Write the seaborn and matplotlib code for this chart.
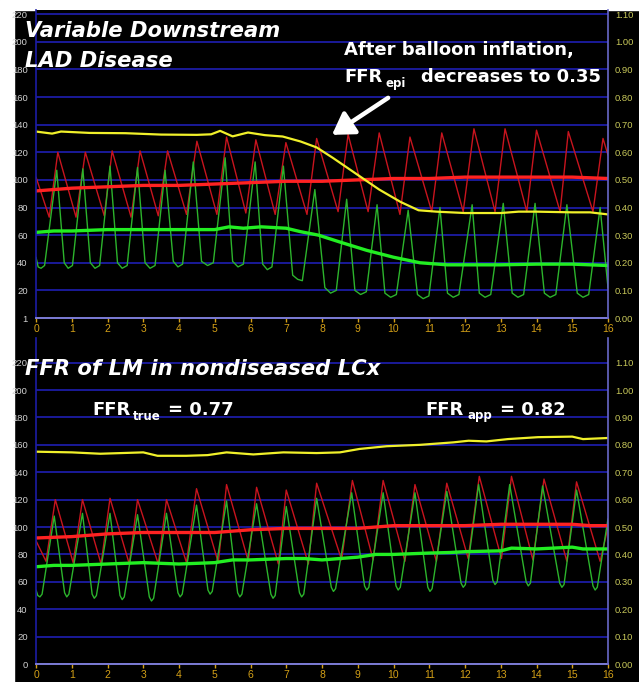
import matplotlib.pyplot as plt
import seaborn as sns
from matplotlib.patches import Rectangle

# ---------------- top panel: variable downstream LAD disease ----------------
top_pa_t = [0.00, 0.37, 0.61, 1.12, 1.38, 1.91, 2.13, 2.66, 2.91, 3.42, 3.68, 4.21, 4.50,
            5.06, 5.33, 5.87, 6.15, 6.69, 6.99, 7.58, 7.85, 8.45, 8.73, 9.29, 9.60,
            10.18, 10.46, 11.07, 11.35, 11.95, 12.25, 12.84, 13.12, 13.73, 14.00,
            14.66, 14.89, 15.58, 15.86, 16.00]
top_pa_v = [102, 73, 120, 73, 120, 74, 121, 73, 121, 74, 121, 75, 128,
            75, 131, 76, 129, 75, 127, 75, 130, 77, 133, 77, 134,
            75, 131, 77, 134, 77, 137, 77, 137, 77, 136,
            77, 135, 77, 130, 118]

top_pd_t = [0.00, 0.06, 0.14, 0.24, 0.58, 0.79, 0.90, 1.02, 1.31, 1.52, 1.65, 1.78, 2.07,
            2.28, 2.41, 2.55, 2.84, 3.05, 3.19, 3.33, 3.61, 3.84, 3.97, 4.10, 4.40,
            4.63, 4.80, 4.96, 5.29, 5.50, 5.65, 5.80, 6.13, 6.34, 6.47, 6.60, 6.92,
            7.18, 7.32, 7.45, 7.80, 8.08, 8.24, 8.40, 8.69, 8.92, 9.08, 9.24, 9.54,
            9.76, 9.92, 10.08, 10.41, 10.67, 10.83, 10.99, 11.30, 11.51, 11.67, 11.83, 12.20,
            12.40, 12.56, 12.72, 13.07, 13.32, 13.48, 13.64, 13.96, 14.22, 14.38, 14.54, 14.85,
            15.14, 15.30, 15.46, 15.78, 16.00]
top_pd_v = [44, 37, 36, 38, 107, 40, 36, 38, 108, 40, 36, 38, 110,
            40, 36, 38, 109, 40, 36, 38, 107, 41, 37, 39, 113,
            41, 38, 40, 116, 41, 37, 39, 113, 39, 35, 37, 110,
            31, 28, 27, 93, 22, 18, 20, 86, 20, 17, 19, 82,
            18, 15, 17, 78, 17, 14, 16, 80, 18, 15, 17, 82,
            18, 15, 17, 83, 18, 15, 17, 83, 18, 15, 17, 82,
            18, 15, 17, 80, 22]

top_pa_mean_t = [0, 0.5, 1, 2, 3, 4, 5, 6, 7, 8, 9, 10, 11, 12, 13, 14, 15, 16]
top_pa_mean_v = [92, 93, 94, 95, 96, 96, 97, 98, 99, 99, 100, 101, 101, 102, 102, 102, 102, 101]

top_pd_mean_t = [0, 0.5, 1, 2, 3, 4, 5, 5.4, 5.8, 6.3, 7, 7.4, 7.9, 8.5, 9.25, 10, 10.74,
                 11.5, 12, 13, 14, 15, 16]
top_pd_mean_v = [62, 63, 63, 64, 64, 64, 64, 66, 65, 66, 65, 62.5, 60, 55, 49, 44, 40,
                 38.5, 38.5, 38.5, 39, 39, 38]

top_ffr_t = [0, 0.45, 0.7, 1.5, 2.5, 3.5, 4.5, 4.9, 5.15, 5.5, 5.93, 6.4, 6.9, 7.4, 7.85,
             8.3, 9.0, 9.6, 10.2, 10.7, 11.2, 12, 13, 13.5, 14, 15, 15.5, 16]
top_ffr_v = [135, 133.5, 135, 134, 133.8, 132.8, 132.6, 133, 135.5, 131.5, 134.3, 132.4,
             131.4, 127.8, 123.5, 116, 103.6, 93, 84, 78, 77, 76, 76, 77, 77, 76.5, 76.5, 75]

# ---------------- bottom panel: FFR of LM in nondiseased LCx ----------------
bot_pa_t = [0.00, 0.28, 0.54, 1.04, 1.30, 1.82, 2.07, 2.61, 2.84, 3.42, 3.65, 4.21, 4.49,
            5.10, 5.33, 5.94, 6.17, 6.78, 7.00, 7.62, 7.85, 8.55, 8.85, 9.43, 9.71,
            10.32, 10.60, 11.20, 11.49, 12.09, 12.40, 13.02, 13.30, 13.90, 14.21,
            14.85, 15.12, 15.78, 16.00]
bot_pa_v = [90, 75, 120, 74, 120, 73, 121, 73, 120, 73, 120, 74, 128,
            74, 131, 75, 129, 73, 127, 73, 132, 76, 134, 76, 134,
            75, 131, 75, 132, 77, 137, 77, 137, 76, 135,
            75, 133, 75, 100]

bot_pd_t = [0.00, 0.05, 0.11, 0.17, 0.51, 0.80, 0.86, 0.92, 1.30, 1.57, 1.63, 1.69, 2.07,
            2.35, 2.41, 2.47, 2.84, 3.17, 3.23, 3.29, 3.65, 3.97, 4.03, 4.09, 4.49,
            4.81, 4.87, 4.93, 5.33, 5.64, 5.70, 5.76, 6.17, 6.57, 6.63, 6.69, 7.00,
            7.37, 7.43, 7.49, 7.85, 8.26, 8.32, 8.38, 8.83, 9.19, 9.25, 9.31, 9.71,
            10.07, 10.13, 10.19, 10.60, 10.96, 11.02, 11.08, 11.49, 11.89, 11.95, 12.01, 12.38,
            12.78, 12.84, 12.90, 13.25, 13.71, 13.77, 13.83, 14.17, 14.65, 14.71, 14.77, 15.12,
            15.58, 15.64, 15.70, 16.00]
bot_pd_v = [54, 50, 49, 51, 108, 52, 49, 51, 110, 51, 48, 50, 110,
            50, 47, 49, 109, 49, 46, 48, 110, 52, 49, 51, 116,
            54, 51, 53, 119, 52, 49, 51, 117, 51, 48, 50, 115,
            52, 49, 51, 121, 56, 53, 55, 125, 57, 54, 56, 125,
            57, 54, 56, 125, 56, 53, 55, 126, 59, 56, 58, 131,
            61, 58, 60, 131, 60, 57, 59, 130, 59, 56, 58, 127,
            57, 54, 56, 106]

bot_pa_mean_t = [0, 1, 2, 3, 4, 5, 5.5, 6, 7, 8, 9, 9.5, 10, 11, 12, 13, 14, 15, 15.5, 16]
bot_pa_mean_v = [92, 93, 95, 96, 96, 96, 97, 98, 99, 99, 99, 100, 101, 101, 101, 102, 102,
                 102, 101, 101]

bot_pd_mean_t = [0, 0.5, 1, 2, 3, 4, 5, 5.5, 6, 7, 7.5, 8, 8.5, 9, 9.5, 10, 11, 11.6, 12,
                 13, 13.3, 14, 15, 15.3, 16]
bot_pd_mean_v = [71, 72, 72, 73, 74, 73, 74, 76, 76, 77, 77, 76, 77, 78, 80, 80, 81, 81.4,
                 82, 82.6, 84.6, 84, 85.3, 84, 84]

bot_ffr_t = [0, 1, 1.8, 3, 3.4, 4.2, 4.8, 5.33, 6.08, 6.92, 7.85, 8.5, 9.05, 9.81, 10.74,
             11.67, 12.1, 12.6, 13.2, 14.04, 15.0, 15.3, 16]
bot_ffr_v = [155, 154.5, 153.5, 154.5, 152, 152, 152.5, 154.5, 153, 154.5, 154, 154.5, 157,
             159, 160, 161.8, 163, 162.5, 164.2, 165.6, 166, 164.2, 165]

x_ticks = list(range(17))
left_ticks = list(range(0, 221, 20))
top_left_labels = ["1"] + [str(v) for v in left_ticks[1:]]
bot_left_labels = [str(v) for v in left_ticks]
right_ticks = [v / 200 for v in left_ticks]
right_labels = [f"{v:.2f}" for v in right_ticks]

THIN_RED = "#c8141e"
THICK_RED = "#ff2222"
THIN_GREEN = "#2cb42c"
THICK_GREEN = "#22ee22"
YELLOW = "#f0f02a"
GRID = "#1c1ca4"
TICK_FONT = ["Liberation Sans Narrow", "Liberation Sans", "DejaVu Sans"]
BIG_FONT = ["DejaVu Sans"]

sns.set_theme(style="dark")
plt.rcParams["font.family"] = ["Liberation Sans", "DejaVu Sans"]

W, H = 639, 682
fig = plt.figure(figsize=(W / 100, H / 100), dpi=100, facecolor="black")
fig.patches.append(Rectangle((0, 1 - 10 / H), 1, 10 / H, transform=fig.transFigure,
                             color="white", zorder=-10))
fig.patches.append(Rectangle((0, 0), 14 / W, 1, transform=fig.transFigure,
                             color="white", zorder=-10))


def fx(x):
    return x / W


def fy(y):
    return 1 - y / H


ax_top = fig.add_axes([fx(36), fy(318), (608 - 36) / W, (318 - 10) / H])
ax_bot = fig.add_axes([fx(36), fy(664), (608 - 36) / W, (664 - 338) / H])


def style_panel(ax, ytop, left_labels):
    ax.set_facecolor("black")
    ax.set_xlim(0, 16)
    ax.set_ylim(0, ytop)
    ax.set_xticks(x_ticks)
    ax.set_xticklabels([str(v) for v in x_ticks])
    ax.set_yticks(left_ticks)
    ax.set_yticklabels(left_labels)
    ax.grid(axis="x", visible=False)
    ax.grid(axis="y", color=GRID, lw=1.3)
    ax.set_axisbelow(True)
    ax.tick_params(axis="x", colors="#d4a017", length=3, width=1, labelsize=7.5, pad=1.5,
                   bottom=True)
    ax.tick_params(axis="y", colors="#d2d2d2", length=0, labelsize=6.8, pad=6)
    for lab in ax.get_xticklabels() + ax.get_yticklabels():
        lab.set_family(TICK_FONT)
    ax.spines["top"].set_visible(False)
    ax.spines["right"].set_visible(False)
    ax.spines["left"].set_color(GRID)
    ax.spines["left"].set_linewidth(1.2)
    ax.spines["bottom"].set_color("#7c7cd4")
    ax.spines["bottom"].set_linewidth(1.4)
    ax.set_xlabel("")
    ax.set_ylabel("")

    axr = ax.twinx()
    axr.set_ylim(0, ytop / 200)
    axr.set_yticks(right_ticks)
    axr.set_yticklabels(right_labels)
    axr.grid(False)
    axr.tick_params(axis="y", colors="#c8c85a", length=0, labelsize=6.8, pad=5)
    for lab in axr.get_yticklabels():
        lab.set_family(TICK_FONT)
    for side in ["top", "left", "bottom"]:
        axr.spines[side].set_visible(False)
    axr.spines["right"].set_color("#6868c8")
    axr.spines["right"].set_linewidth(1.2)


def draw_traces(ax, pa, pd_, pa_mean, pd_mean, ffr):
    sns.lineplot(x=pa[0], y=pa[1], ax=ax, color=THIN_RED, lw=1.0, estimator=None, sort=False)
    sns.lineplot(x=pd_[0], y=pd_[1], ax=ax, color=THIN_GREEN, lw=1.0, estimator=None, sort=False)
    sns.lineplot(x=pa_mean[0], y=pa_mean[1], ax=ax, color=THICK_RED, lw=2.4, estimator=None,
                 sort=False)
    sns.lineplot(x=pd_mean[0], y=pd_mean[1], ax=ax, color=THICK_GREEN, lw=2.4, estimator=None,
                 sort=False)
    sns.lineplot(x=ffr[0], y=ffr[1], ax=ax, color=YELLOW, lw=1.6, estimator=None, sort=False)


draw_traces(ax_top, (top_pa_t, top_pa_v), (top_pd_t, top_pd_v),
            (top_pa_mean_t, top_pa_mean_v), (top_pd_mean_t, top_pd_mean_v),
            (top_ffr_t, top_ffr_v))
draw_traces(ax_bot, (bot_pa_t, bot_pa_v), (bot_pd_t, bot_pd_v),
            (bot_pa_mean_t, bot_pa_mean_v), (bot_pd_mean_t, bot_pd_mean_v),
            (bot_ffr_t, bot_ffr_v))
style_panel(ax_top, 223, top_left_labels)
style_panel(ax_bot, 238, bot_left_labels)

# arrow to the drop of the FFR trace
ax_top.annotate("", xy=(8.28, 132.6), xytext=(9.85, 159.4),
                arrowprops=dict(arrowstyle="-|>,head_length=0.8,head_width=0.5",
                                color="white", lw=3.2, mutation_scale=16,
                                shrinkA=0, shrinkB=0))

title_kw = dict(color="white", fontsize=15.2, fontweight="bold", fontstyle="italic",
                va="baseline", ha="left", family=BIG_FONT)
fig.text(fx(25), fy(37), "Variable Downstream", **title_kw)
fig.text(fx(25), fy(67), "LAD Disease", **title_kw)
fig.text(fx(25), fy(375), "FFR of LM in nondiseased LCx", **title_kw)

note_kw = dict(color="white", fontweight="bold", va="baseline", ha="left", family=BIG_FONT)
fig.text(fx(344), fy(55), "After balloon inflation,", fontsize=13, **note_kw)
fig.text(fx(344), fy(82), "FFR", fontsize=13, **note_kw)
fig.text(fx(386), fy(87), "epi", fontsize=8.5, **note_kw)
fig.text(fx(421), fy(82), "decreases to 0.35", fontsize=13, **note_kw)

fig.text(fx(92), fy(415), "FFR", fontsize=13, **note_kw)
fig.text(fx(133), fy(420), "true", fontsize=8.5, **note_kw)
fig.text(fx(168), fy(415), "= 0.77", fontsize=13, **note_kw)
fig.text(fx(425), fy(415), "FFR", fontsize=13, **note_kw)
fig.text(fx(467), fy(419), "app", fontsize=8.5, **note_kw)
fig.text(fx(500), fy(415), "= 0.82", fontsize=13, **note_kw)

fig.savefig("out.png", dpi=100, facecolor=fig.get_facecolor())
